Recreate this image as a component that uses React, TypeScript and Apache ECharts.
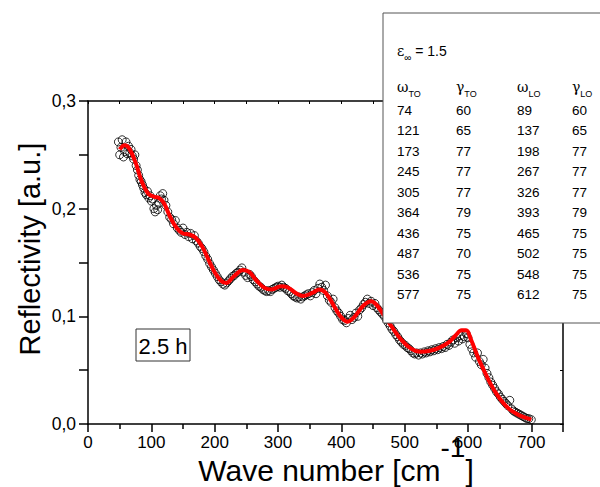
import React, { useEffect, useRef } from "react";
import * as echarts from "echarts";

// fitted curve (wave number, reflectivity)
const fitCurve: [number, number][] = [
  [50, 0.255], [58, 0.259], [65, 0.256], [75, 0.243], [85, 0.225], [95, 0.214],
  [105, 0.211], [112, 0.21], [120, 0.205], [130, 0.192], [140, 0.182], [150, 0.177],
  [160, 0.176], [170, 0.173], [180, 0.165], [190, 0.153], [200, 0.141], [210, 0.133],
  [218, 0.131], [230, 0.137], [245, 0.143], [255, 0.141], [265, 0.134], [280, 0.126],
  [290, 0.125], [305, 0.128], [315, 0.127], [330, 0.121], [340, 0.119], [355, 0.122],
  [365, 0.125], [375, 0.122], [390, 0.108], [400, 0.099], [410, 0.095], [420, 0.099],
  [435, 0.11], [447, 0.114], [455, 0.111], [465, 0.103], [480, 0.09], [495, 0.078],
  [510, 0.07], [525, 0.067], [540, 0.068], [555, 0.071], [570, 0.076], [580, 0.082],
  [590, 0.087], [597, 0.087], [605, 0.078], [615, 0.063], [625, 0.05], [635, 0.038],
  [645, 0.028], [655, 0.02], [665, 0.014], [675, 0.01], [685, 0.007], [700, 0.004],
];

// measured points (wave number, reflectivity)
const measured: [number, number][] = [
  [48, 0.262], [50, 0.25], [52, 0.257], [54, 0.264], [56, 0.248], [58, 0.253], [60, 0.262],
  [62, 0.251], [64, 0.258], [66, 0.252], [68, 0.255], [70, 0.249], [72, 0.246], [74, 0.25],
  [76, 0.24], [78, 0.236], [80, 0.231], [82, 0.227], [84, 0.225], [86, 0.222], [88, 0.219],
  [90, 0.215], [92, 0.213], [94, 0.216], [96, 0.21], [98, 0.212], [100, 0.207], [102, 0.209],
  [104, 0.2], [106, 0.197], [108, 0.203], [110, 0.199], [112, 0.205], [114, 0.212], [116, 0.209],
  [118, 0.214], [120, 0.208], [123, 0.203], [126, 0.197], [129, 0.192], [132, 0.19], [135, 0.186],
  [138, 0.189], [141, 0.182], [144, 0.18], [147, 0.178], [150, 0.182], [153, 0.176], [156, 0.178],
  [159, 0.174], [162, 0.177], [165, 0.172], [168, 0.175], [171, 0.17], [174, 0.168], [177, 0.165],
  [180, 0.163], [183, 0.16], [186, 0.156], [189, 0.153], [192, 0.149], [195, 0.146], [198, 0.143],
  [201, 0.14], [204, 0.137], [207, 0.134], [210, 0.132], [213, 0.13], [216, 0.129], [219, 0.131],
  [222, 0.133], [225, 0.135], [228, 0.137], [231, 0.138], [234, 0.14], [237, 0.141], [240, 0.143],
  [243, 0.145], [246, 0.141], [249, 0.138], [252, 0.136], [255, 0.139], [258, 0.137], [261, 0.134],
  [264, 0.132], [267, 0.13], [270, 0.128], [273, 0.127], [276, 0.125], [279, 0.124], [282, 0.123],
  [285, 0.124], [288, 0.123], [291, 0.125], [294, 0.126], [297, 0.127], [300, 0.128], [303, 0.127],
  [306, 0.129], [309, 0.127], [312, 0.126], [315, 0.124], [318, 0.123], [321, 0.121], [324, 0.119],
  [327, 0.118], [330, 0.117], [333, 0.118], [336, 0.116], [339, 0.118], [342, 0.119], [345, 0.12],
  [348, 0.121], [351, 0.119], [354, 0.122], [357, 0.124], [360, 0.121], [363, 0.126], [366, 0.13],
  [369, 0.127], [372, 0.124], [375, 0.129], [378, 0.119], [381, 0.115], [384, 0.113], [387, 0.116],
  [390, 0.108], [393, 0.105], [396, 0.103], [399, 0.1], [402, 0.097], [405, 0.096], [408, 0.094],
  [411, 0.098], [414, 0.101], [417, 0.097], [420, 0.099], [423, 0.103], [426, 0.1], [429, 0.106],
  [432, 0.108], [435, 0.111], [438, 0.113], [441, 0.116], [444, 0.112], [447, 0.114], [450, 0.11],
  [453, 0.112], [456, 0.108], [459, 0.106], [462, 0.104], [465, 0.102], [468, 0.1], [471, 0.097],
  [474, 0.094], [477, 0.091], [480, 0.088], [483, 0.086], [486, 0.083], [489, 0.081], [492, 0.078],
  [495, 0.076], [498, 0.074], [501, 0.073], [504, 0.071], [507, 0.07], [510, 0.068], [513, 0.066],
  [516, 0.065], [519, 0.066], [522, 0.064], [525, 0.066], [528, 0.065], [531, 0.067], [534, 0.066],
  [537, 0.068], [540, 0.067], [543, 0.069], [546, 0.068], [549, 0.07], [552, 0.069], [555, 0.071],
  [558, 0.07], [561, 0.072], [564, 0.071], [567, 0.074], [570, 0.073], [573, 0.076], [576, 0.078],
  [579, 0.075], [582, 0.08], [585, 0.077], [588, 0.082], [591, 0.079], [594, 0.081], [597, 0.084],
  [600, 0.08], [603, 0.074], [606, 0.07], [609, 0.066], [612, 0.062], [615, 0.066], [618, 0.058],
  [621, 0.055], [624, 0.06], [627, 0.052], [630, 0.047], [633, 0.043], [636, 0.039], [639, 0.036],
  [642, 0.033], [645, 0.03], [648, 0.028], [651, 0.025], [654, 0.023], [657, 0.021], [660, 0.019],
  [663, 0.017], [666, 0.022], [669, 0.014], [672, 0.012], [675, 0.011], [678, 0.01], [681, 0.009],
  [684, 0.008], [687, 0.007], [690, 0.006], [693, 0.005], [696, 0.005], [700, 0.004],
];

// oscillator parameters table
const epsInf = "1.5";
const omegaTO = [74, 121, 173, 245, 305, 364, 436, 487, 536, 577];
const gammaTO = [60, 65, 77, 77, 77, 79, 75, 70, 75, 75];
const omegaLO = [89, 137, 198, 267, 326, 393, 465, 502, 548, 612];
const gammaLO = [60, 65, 77, 77, 77, 79, 75, 75, 75, 75];
const sampleLabel = "2.5 h";

const FONT = "'Liberation Sans', Arial, sans-serif";

export default function App() {
  const ref = useRef<HTMLDivElement>(null);
  useEffect(() => {
    if (!ref.current) return;
    const chart = echarts.init(ref.current, undefined, { renderer: "svg" });

    const colX = [397, 456, 517, 572];
    const rowY0 = 110;
    const rowStep = 20.5;
    const columns = [omegaTO, gammaTO, omegaLO, gammaLO];
    const tableTexts: any[] = [];
    columns.forEach((col, ci) => {
      col.forEach((v, ri) => {
        tableTexts.push({
          type: "text",
          z: 101,
          x: colX[ci],
          y: rowY0 + ri * rowStep,
          style: {
            text: String(v),
            fontSize: 13.5,
            fontFamily: FONT,
            fill: "#000",
            textAlign: "left",
            textVerticalAlign: "middle",
          },
        });
      });
    });
    const headers = [
      ["ω", "TO"],
      ["γ", "TO"],
      ["ω", "LO"],
      ["γ", "LO"],
    ];
    headers.forEach((h, ci) => {
      tableTexts.push({
        type: "text",
        z: 101,
        x: colX[ci],
        y: 89,
        style: {
          text: `{m|${h[0]}}{s|${h[1]}}`,
          textAlign: "left",
          textVerticalAlign: "middle",
          rich: {
            m: { fontSize: 14, fontFamily: "'DejaVu Serif', serif", fill: "#000", lineHeight: 18, verticalAlign: "top" },
            s: { fontSize: 9, fontFamily: FONT, fill: "#000", lineHeight: 10, verticalAlign: "bottom" },
          },
        },
      });
    });

    const option: any = {
      animation: false,
      backgroundColor: "#fff",
      grid: { left: 88, right: 37, top: 101, bottom: 63 },
      xAxis: [
        {
          type: "value",
          min: 0,
          max: 750,
          interval: 100,
          position: "bottom",
          axisLine: { show: true, onZero: false, lineStyle: { color: "#000", width: 1.5 } },
          axisTick: { show: true, inside: false, length: 8, lineStyle: { color: "#000", width: 1.5 } },
          minorTick: { show: true, splitNumber: 2, length: 5, lineStyle: { color: "#000", width: 1.5 } },
          splitLine: { show: false },
          axisLabel: {
            color: "#000",
            fontSize: 17,
            fontFamily: FONT,
            margin: 10,
            showMaxLabel: false,
            formatter: (v: number) => (v > 700 ? "" : String(v)),
          },
        },
        {
          type: "value",
          min: 0,
          max: 750,
          interval: 50,
          position: "top",
          axisLine: { show: true, onZero: false, lineStyle: { color: "#000", width: 1.5 } },
          axisTick: { show: true, inside: true, length: 3, lineStyle: { color: "#000", width: 1 } },
          splitLine: { show: false },
          axisLabel: { show: false },
        },
      ],
      yAxis: [
        {
          type: "value",
          min: 0,
          max: 0.3,
          interval: 0.1,
          position: "left",
          axisLine: { show: true, onZero: false, lineStyle: { color: "#000", width: 1.5 } },
          axisTick: { show: true, inside: false, length: 9, lineStyle: { color: "#000", width: 1.5 } },
          minorTick: { show: true, splitNumber: 2, length: 9, lineStyle: { color: "#000", width: 1.5 } },
          splitLine: { show: false },
          axisLabel: {
            color: "#000",
            fontSize: 17.5,
            fontFamily: FONT,
            margin: 12,
            formatter: (v: number) => v.toFixed(1).replace(".", ","),
          },
        },
        {
          type: "value",
          min: 0,
          max: 0.3,
          interval: 0.05,
          position: "right",
          axisLine: { show: true, onZero: false, lineStyle: { color: "#000", width: 1.5 } },
          axisTick: { show: true, inside: true, length: 3, lineStyle: { color: "#000", width: 1 } },
          splitLine: { show: false },
          axisLabel: { show: false },
        },
      ],
      series: [
        {
          type: "scatter",
          xAxisIndex: 0,
          yAxisIndex: 0,
          data: measured,
          symbol: "circle",
          symbolSize: 8,
          itemStyle: { color: "rgba(255,255,255,0)", borderColor: "#000", borderWidth: 1 },
          z: 2,
        },
        {
          type: "line",
          xAxisIndex: 0,
          yAxisIndex: 0,
          data: fitCurve,
          smooth: 0.4,
          showSymbol: false,
          symbol: "none",
          lineStyle: { color: "#ff0000", width: 4 },
          z: 3,
        },
      ],
      graphic: [
        {
          type: "text",
          z: 50,
          x: 30,
          y: 249,
          rotation: Math.PI / 2,
          style: {
            text: "Reflectivity [a.u.]",
            fontSize: 29,
            fontFamily: FONT,
            fill: "#000",
            textAlign: "center",
            textVerticalAlign: "middle",
          },
        },
        {
          type: "text",
          z: 50,
          x: 336,
          y: 459,
          style: {
            text: "{a|Wave number [cm}{b|-1}{a|]}",
            textAlign: "center",
            textVerticalAlign: "middle",
            rich: {
              a: { fontSize: 30, fontFamily: FONT, fill: "#000", lineHeight: 52, verticalAlign: "bottom" },
              b: { fontSize: 28, fontFamily: FONT, fill: "#000", lineHeight: 30, verticalAlign: "top" },
            },
          },
        },
        {
          type: "rect",
          z: 50,
          shape: { x: 136, y: 329, width: 54, height: 32 },
          style: { fill: "#fff", stroke: "#333", lineWidth: 1 },
        },
        {
          type: "text",
          z: 51,
          x: 163,
          y: 346,
          style: {
            text: sampleLabel,
            fontSize: 22,
            fontFamily: FONT,
            fill: "#000",
            textAlign: "center",
            textVerticalAlign: "middle",
          },
        },
        {
          type: "rect",
          z: 100,
          shape: { x: 383, y: 13, width: 230, height: 310 },
          style: { fill: "#fff", stroke: "#555", lineWidth: 1 },
        },
        {
          type: "text",
          z: 101,
          x: 397,
          y: 53,
          style: {
            text: `{m|ε}{s|∞}{n| = ${epsInf}}`,
            textAlign: "left",
            textVerticalAlign: "middle",
            rich: {
              m: { fontSize: 14, fontFamily: "'DejaVu Serif', serif", fill: "#000", lineHeight: 18, verticalAlign: "top" },
              s: { fontSize: 10, fontFamily: FONT, fill: "#000", lineHeight: 10, verticalAlign: "bottom" },
              n: { fontSize: 14, fontFamily: FONT, fill: "#000", lineHeight: 18, verticalAlign: "top" },
            },
          },
        },
        ...tableTexts,
      ],
    };
    chart.setOption(option);
    return () => chart.dispose();
  }, []);
  return (
    <div
      ref={ref}
      style={{ position: "absolute", left: 0, top: 0, width: 600, height: 487 }}
    />
  );
}
